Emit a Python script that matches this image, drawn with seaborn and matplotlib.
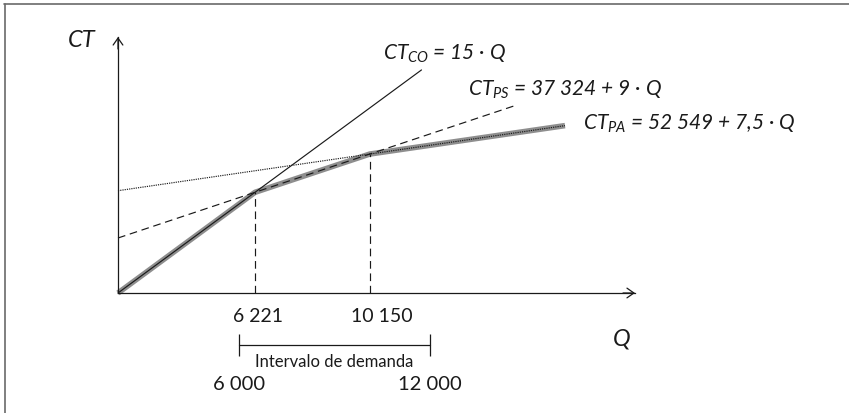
import numpy as np
import matplotlib
matplotlib.use("Agg")
import matplotlib.pyplot as plt
from matplotlib.lines import Line2D
from matplotlib.transforms import ScaledTranslation
import seaborn as sns

# Schematic total-cost lines (diagram units): intercept, slope and drawn extent
line_names = ["CO", "PS", "PA"]
intercepts = [0.0, 55.0, 102.3]
slopes = [0.735, 0.3335, 0.1456]
x_ends = [303.5, 398.7, 447.0]
equations = [
    r"$CT_{CO}$ = 15 · Q",
    r"$CT_{PS}$ = 37 324 + 9 · Q",
    r"$CT_{PA}$ = 52 549 + 7,5 · Q",
]

# Indifference points on the Q axis
break_labels = ["6 221", "10 150"]

# Demand interval
interval_ends = [121.3, 312.0]
interval_labels = ["6 000", "12 000"]
interval_title = "Intervalo de demanda"

sns.set_theme(style="white")
FAMILY = ["Lato", "DejaVu Sans"]
plt.rcParams["font.family"] = FAMILY
plt.rcParams["mathtext.fontset"] = "custom"
plt.rcParams["mathtext.it"] = "Lato:italic"
plt.rcParams["mathtext.rm"] = "Lato"
plt.rcParams["mathtext.bf"] = "Lato:bold"

INK = "#1a1a1a"

fig = plt.figure(figsize=(8.49, 4.14), dpi=100)
ax = fig.add_axes([0, 0, 1, 1])
ax.set_facecolor("white")

a = np.array(intercepts)
m = np.array(slopes)

def cost(i, x):
    return a[i] + m[i] * np.asarray(x)

# Break-even points between consecutive options
b1 = (a[1] - a[0]) / (m[0] - m[1])
b2 = (a[2] - a[1]) / (m[1] - m[2])
breaks = np.array([b1, b2])
break_y = cost(1, breaks)

# Minimum-cost envelope (thick grey)
env_x = np.array([0.0, b1, b2, x_ends[2]])
env_y = np.min(np.vstack([cost(i, env_x) for i in range(3)]), axis=0)
sns.lineplot(x=env_x, y=env_y, ax=ax, color="#8e8e8e", lw=4.0,
             sort=False, estimator=None, zorder=1, solid_capstyle="butt")

# The three cost lines
styles = ["-", (0, (6.5, 4.0)), (0, (1.0, 0.9))]
label_pos = [(265, 234), (350, 198.3), (465, 164)]
for i in range(3):
    xs = np.array([0.0, x_ends[i]])
    sns.lineplot(x=xs, y=cost(i, xs), ax=ax, color=INK, lw=0.85,
                 linestyle=styles[i], sort=False, estimator=None, zorder=3)
    ax.text(*label_pos[i], equations[i],
            fontsize=15, style="italic", color=INK, ha="left", va="baseline")

# Drop lines from the break-even points
ax.vlines(breaks, 0, break_y, colors=INK, lw=0.85,
          linestyles=[(0, (6.5, 4.0))], zorder=3)

# Axes with arrow heads
ax.set_xlim(-118, 731)
ax.set_ylim(-120, 294)
for side in ["top", "right"]:
    ax.spines[side].set_visible(False)
ax.spines["left"].set_position(("data", 0))
ax.spines["bottom"].set_position(("data", 0))
ax.spines["left"].set_bounds(0, 256)
ax.spines["bottom"].set_bounds(0, 517)
for side in ["left", "bottom"]:
    ax.spines[side].set_color(INK)
    ax.spines[side].set_linewidth(0.9)
arrow = dict(arrowstyle="->,head_length=0.5,head_width=0.35", lw=0.9,
             color=INK, shrinkA=0, shrinkB=0, mutation_scale=10)
ax.annotate("", xy=(517, 0), xytext=(505, 0), arrowprops=arrow, annotation_clip=False)
ax.annotate("", xy=(0, 256), xytext=(0, 244), arrowprops=arrow, annotation_clip=False)

ax.set_yticks([])
ax.set_xticks(breaks, break_labels)
ax.tick_params(axis="x", length=0, pad=10, labelsize=14, labelcolor=INK)
for lab, dx in zip(ax.get_xticklabels(), [2.2, 8.6]):
    lab.set_transform(lab.get_transform() + ScaledTranslation(dx / 72, 0, fig.dpi_scale_trans))
ax.set_xlabel("")
ax.set_ylabel("")
ax.grid(False)

# Axis names
ax.text(-50, 247, "CT", fontsize=17, style="italic", color=INK, ha="left", va="baseline")
ax.text(495, -52, "Q", fontsize=17, style="italic", color=INK, ha="left", va="baseline")

# Demand interval bracket
ax.plot(interval_ends, [-52, -52], color=INK, lw=0.9, clip_on=False)
ax.vlines(interval_ends, -63, -41, colors=INK, lw=0.9)
ax.text(np.mean(interval_ends), -73, interval_title, fontsize=12, color=INK,
        ha="center", va="baseline")
for x, lab in zip(interval_ends, interval_labels):
    ax.text(x, -96, lab, fontsize=14.5, color=INK, ha="center", va="baseline")

# Frame (top and left edges)
fig.add_artist(Line2D([4 / 849, 1], [1 - 4.5 / 414] * 2, transform=fig.transFigure,
                      color="#6a6a6a", lw=1.2))
fig.add_artist(Line2D([4.5 / 849] * 2, [0, 1 - 4.5 / 414], transform=fig.transFigure,
                      color="#6a6a6a", lw=1.2))

fig.savefig("out.png", dpi=100, facecolor="white")
